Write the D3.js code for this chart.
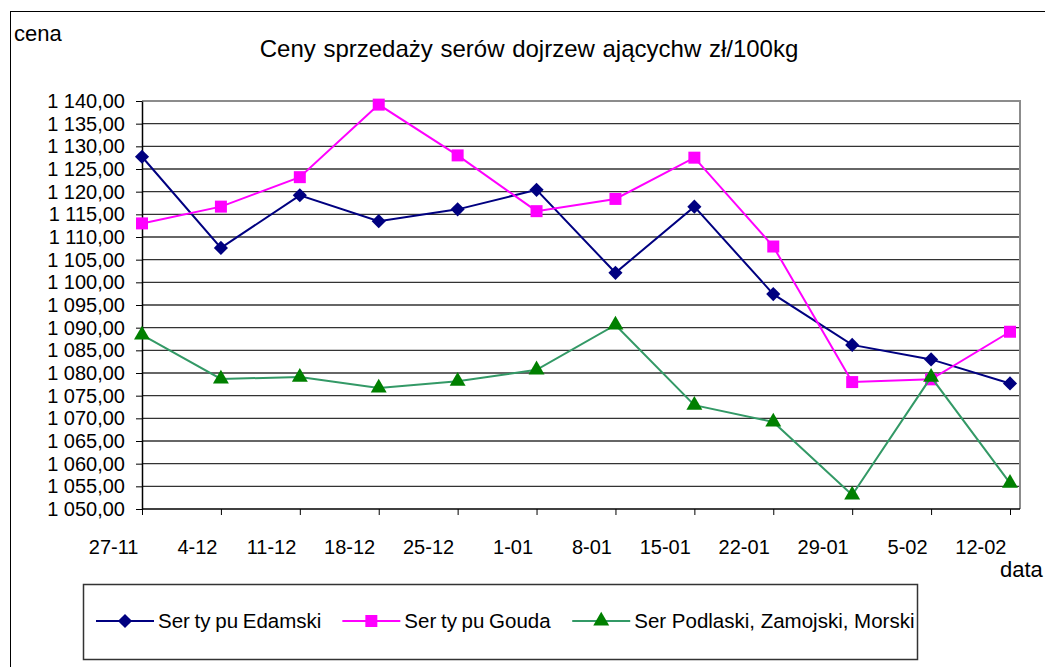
<!DOCTYPE html>
<html>
<head>
<meta charset="utf-8">
<script src="https://cdn.jsdelivr.net/npm/d3@7"></script>
<style>
  body { margin: 0; background: #fff; }
  svg text { font-family: "Liberation Sans", Arial, sans-serif; fill: #000; }
  .axis path, .axis line { stroke: #000; }
</style>
</head>
<body>
<div id="chart"></div>
<script>
var categories = ['27-11', '4-12', '11-12', '18-12', '25-12', '1-01', '8-01', '15-01', '22-01', '29-01', '5-02', '12-02']
var edamski = [1127.7, 1107.6, 1119.2, 1113.5, 1116.1, 1120.4, 1102.1, 1116.7, 1097.4, 1086.2, 1083.0, 1077.7]
var gouda = [1113.0, 1116.7, 1123.2, 1139.2, 1128.0, 1115.7, 1118.4, 1127.5, 1107.9, 1078.0, 1078.6, 1089.1]
var podlaski = [1088.4, 1078.7, 1079.1, 1076.7, 1078.2, 1080.7, 1090.6, 1072.9, 1069.2, 1053.1, 1079.1, 1055.7]
var yTicks = [1050, 1055, 1060, 1065, 1070, 1075, 1080, 1085, 1090, 1095, 1100, 1105, 1110, 1115, 1120, 1125, 1130, 1135, 1140]
var seriesNames = ['Ser ty pu Edamski', 'Ser ty pu Gouda', 'Ser Podlaski, Zamojski, Morski']

var series = [
	{ name: seriesNames[0], values: edamski, line: '#000080', fill: '#000080', shape: 'diamond', ws: -1 },
	{ name: seriesNames[1], values: gouda, line: '#ff00ff', fill: '#ff00ff', shape: 'square', ws: -1 },
	{ name: seriesNames[2], values: podlaski, line: '#339966', fill: '#008000', shape: 'triangle', ws: 0 }
]

var width = 1045, height = 667
var plot = { left: 142, top: 101, right: 1020, bottom: 509 }

var svg = d3.select('#chart').append('svg')
	.attr('width', width)
	.attr('height', height)

// outer frame
svg.append('rect')
	.attr('x', 10.5).attr('y', 11.5)
	.attr('width', 1100).attr('height', 700)
	.attr('fill', '#fff').attr('stroke', '#000').attr('stroke-width', 1)

var xScale = d3.scalePoint()
	.domain(categories)
	.range([plot.left, 1010])

var yScale = d3.scaleLinear()
	.domain([1050, 1140])
	.range([plot.bottom, plot.top])

var plLocale = d3.formatLocale({ decimal: ',', thousands: ' ', grouping: [3], currency: ['', ''] })
var fmt = plLocale.format(',.2f')

// grid
svg.append('g')
	.attr('class', 'grid')
	.selectAll('line').data(yTicks.slice(1, -1))
	.enter().append('line')
		.attr('x1', plot.left).attr('x2', plot.right)
		.attr('y1', function(d) { return yScale(d) })
		.attr('y2', function(d) { return yScale(d) })
		.attr('stroke', '#333').attr('stroke-width', 1.4)

// plot border top / right
svg.append('path')
	.attr('d', 'M' + plot.left + ',' + plot.top + 'H' + plot.right + 'V' + plot.bottom)
	.attr('fill', 'none').attr('stroke', '#8c8c8c').attr('stroke-width', 2)

var yAxis = d3.axisLeft(yScale)
	.tickValues(yTicks)
	.tickFormat(fmt)
	.tickSize(6)
	.tickSizeOuter(0)
	.tickPadding(11)

var xAxis = d3.axisBottom(xScale)
	.tickSize(6)
	.tickSizeOuter(0)
	.tickPadding(25)

var gy = svg.append('g')
	.attr('class', 'y axis')
	.attr('transform', 'translate(' + plot.left + ',0)')
	.call(yAxis)
gy.select('.domain').attr('stroke-width', 1.5)
gy.selectAll('text').style('font-size', '20px')

var gx = svg.append('g')
	.attr('class', 'x axis')
	.attr('transform', 'translate(0,' + plot.bottom + ')')
	.call(xAxis)
gx.select('.domain').attr('d', 'M' + plot.left + ',0H' + plot.right).attr('stroke-width', 1.5)
gx.selectAll('text')
	.style('font-size', '20px')
	.attr('text-anchor', 'end')
	.attr('x', -4)

// markers
function markerPath(shape) {
	if (shape === 'diamond') return d3.symbol(d3.symbolSquare, 100)()
	if (shape === 'square') return d3.symbol(d3.symbolSquare, 144)()
	return d3.symbol(d3.symbolTriangle, 110)()
}
function markerTransform(shape, x, y) {
	return 'translate(' + x + ',' + y + ')' + (shape === 'diamond' ? ' rotate(45)' : '')
}

var line = d3.line()
	.x(function(d, i) { return xScale(categories[i]) })
	.y(function(d) { return yScale(d) })

series.forEach(function(s) {
	var g = svg.append('g')
	g.append('path')
		.attr('d', line(s.values))
		.attr('fill', 'none')
		.attr('stroke', s.line)
		.attr('stroke-width', 2)
	g.selectAll('path.mark').data(s.values)
		.enter().append('path')
			.attr('class', 'mark')
			.attr('d', markerPath(s.shape))
			.attr('transform', function(d, i) { return markerTransform(s.shape, xScale(categories[i]), yScale(d)) })
			.attr('fill', s.fill)
})

// titles
svg.append('text')
	.attr('x', 529).attr('y', 57)
	.attr('text-anchor', 'middle')
	.style('font-size', '24px')
	.style('word-spacing', '1px')
	.text('Ceny sprzedaży serów dojrzew ającychw zł/100kg')

svg.append('text')
	.attr('x', 14).attr('y', 41)
	.style('font-size', '22px')
	.text('cena')

svg.append('text')
	.attr('x', 1000).attr('y', 577)
	.style('font-size', '22px')
	.text('data')

// legend
var legend = svg.append('g')
legend.append('rect')
	.attr('x', 83.5).attr('y', 584.5)
	.attr('width', 834).attr('height', 75)
	.attr('fill', '#fff').attr('stroke', '#333').attr('stroke-width', 1.5)

var lx = 96, ly = 621
series.forEach(function(s) {
	var item = legend.append('g')
	item.append('line')
		.attr('x1', lx).attr('x2', lx + 58)
		.attr('y1', ly).attr('y2', ly)
		.attr('stroke', s.line).attr('stroke-width', 2)
	item.append('path')
		.attr('d', markerPath(s.shape))
		.attr('transform', markerTransform(s.shape, lx + 29, ly))
		.attr('fill', s.fill)
	var t = item.append('text')
		.attr('x', lx + 62).attr('y', ly + 7)
		.style('font-size', '20.5px')
		.style('word-spacing', s.ws + 'px')
		.text(s.name)
	lx = lx + 62 + t.node().getBBox().width + 21
})
</script>
</body>
</html>
